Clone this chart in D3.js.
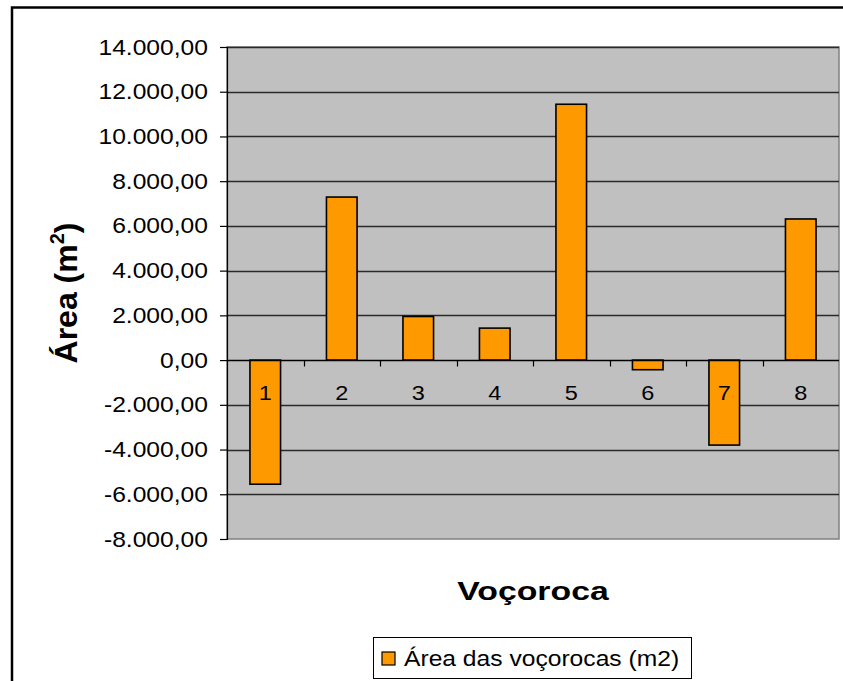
<!DOCTYPE html>
<html>
<head>
<meta charset="utf-8">
<script src="https://cdn.jsdelivr.net/npm/d3@7"></script>
<style>
  html, body { margin: 0; padding: 0; background: #fff; }
  svg { display: block; font-family: "Liberation Sans", Arial, sans-serif; }
</style>
</head>
<body>
<svg id="chart" width="843" height="681"></svg>
<script>
// Gully (voçoroca) areas in m²
const categories = ["1", "2", "3", "4", "5", "6", "7", "8"];
const areas = [-5550, 7290, 1950, 1430, 11440, -430, -3800, 6310];
const yTicks = [-8000, -6000, -4000, -2000, 0, 2000, 4000, 6000, 8000, 10000, 12000, 14000];
const seriesName = "Área das voçorocas (m2)";
const xTitle = "Voçoroca";

const svg = d3.select("#chart");
const plot = { left: 227, right: 839, top: 47, bottom: 539 };
const wide = 1.12; // horizontal stretch of the label type

// Pt-BR style number format: 14.000,00 (plain hyphen for negatives)
const ptBR = d3.formatLocale({ decimal: ",", thousands: ".", grouping: [3], currency: ["R$", ""], minus: "-" });
const fmt = ptBR.format(",.2f");

const x = d3.scaleBand().domain(categories).range([plot.left, plot.right]).paddingInner(0.6).paddingOuter(0.3);
const xBand = d3.scaleBand().domain(categories).range([plot.left, plot.right]);
const y = d3.scaleLinear().domain([-8000, 14000]).range([plot.bottom, plot.top]);

// Outer chart frame
svg.append("rect")
  .attr("x", 12).attr("y", 7.5).attr("width", 860).attr("height", 700)
  .attr("fill", "none").attr("stroke", "#000").attr("stroke-width", 2.5);

// Plot area background
svg.append("rect")
  .attr("x", plot.left).attr("y", plot.top)
  .attr("width", plot.right - plot.left).attr("height", plot.bottom - plot.top)
  .attr("fill", "#c0c0c0").attr("stroke", "#808080").attr("stroke-width", 1.5);

// Horizontal gridlines
svg.append("g").selectAll("line")
  .data(yTicks.filter(d => d !== 0 && d !== -8000))
  .join("line")
  .attr("x1", plot.left).attr("x2", plot.right)
  .attr("y1", d => Math.round(y(d)) + 0.5).attr("y2", d => Math.round(y(d)) + 0.5)
  .attr("stroke", "#2a2a2a").attr("stroke-width", 1.3);

// Y axis
const yAxis = d3.axisLeft(y).tickValues(yTicks).tickFormat(fmt).tickSize(7).tickPadding(12);
const gy = svg.append("g").attr("transform", `translate(${plot.left},0)`).call(yAxis);
gy.select(".domain").attr("stroke", "#000").attr("stroke-width", 1.2);
gy.selectAll(".tick line").attr("stroke", "#000").attr("stroke-width", 1.2);
gy.selectAll(".tick text")
  .attr("x", 0)
  .attr("transform", `translate(-19,0) scale(${wide},1)`)
  .attr("font-size", 22).attr("fill", "#000")
  .attr("font-family", "'Liberation Sans', Arial, sans-serif");

// Bars
svg.append("g").selectAll("rect")
  .data(areas)
  .join("rect")
  .attr("x", (d, i) => x(categories[i]))
  .attr("width", x.bandwidth())
  .attr("y", d => y(Math.max(0, d)))
  .attr("height", d => Math.abs(y(d) - y(0)))
  .attr("fill", "#ff9900")
  .attr("stroke", "#000").attr("stroke-width", 1.6);

// Category axis on the zero line
const zeroY = Math.round(y(0)) + 0.5;
svg.append("line")
  .attr("x1", plot.left).attr("x2", plot.right)
  .attr("y1", zeroY).attr("y2", zeroY)
  .attr("stroke", "#000").attr("stroke-width", 1.3);
svg.append("g").selectAll("line")
  .data(categories.slice(1))
  .join("line")
  .attr("x1", d => Math.round(xBand(d)) + 0.5).attr("x2", d => Math.round(xBand(d)) + 0.5)
  .attr("y1", zeroY).attr("y2", zeroY + 6)
  .attr("stroke", "#000").attr("stroke-width", 1.2);
svg.append("g").selectAll("text")
  .data(categories)
  .join("text")
  .attr("transform", d => `translate(${xBand(d) + xBand.bandwidth() / 2},400) scale(${wide},1)`)
  .attr("text-anchor", "middle")
  .attr("font-size", 21)
  .attr("fill", "#000")
  .text(d => d);

// Axis titles
svg.append("text")
  .attr("transform", `translate(${(plot.left + plot.right) / 2},600) scale(1.3,1)`)
  .attr("text-anchor", "middle")
  .attr("font-size", 26).attr("font-weight", "bold")
  .attr("fill", "#000")
  .text(xTitle);

const yt = svg.append("text")
  .attr("transform", `translate(77,${(plot.top + plot.bottom) / 2}) rotate(-90)`)
  .attr("text-anchor", "middle")
  .attr("font-size", 32).attr("font-weight", "bold")
  .attr("fill", "#000");
yt.append("tspan").text("Área (m");
yt.append("tspan").attr("font-size", 20).attr("dy", -13).text("2");
yt.append("tspan").attr("dy", 13).text(")");

// Legend
const lg = svg.append("g");
lg.append("rect")
  .attr("x", 373.5).attr("y", 637.5).attr("width", 318).attr("height", 41)
  .attr("fill", "#fff").attr("stroke", "#000").attr("stroke-width", 1);
lg.append("rect")
  .attr("x", 382).attr("y", 652).attr("width", 13).attr("height", 13)
  .attr("fill", "#ff9900").attr("stroke", "#000").attr("stroke-width", 1.2);
lg.append("text")
  .attr("transform", `translate(404,666) scale(${wide},1)`)
  .attr("font-size", 22).attr("fill", "#000")
  .text(seriesName);
</script>
</body>
</html>
